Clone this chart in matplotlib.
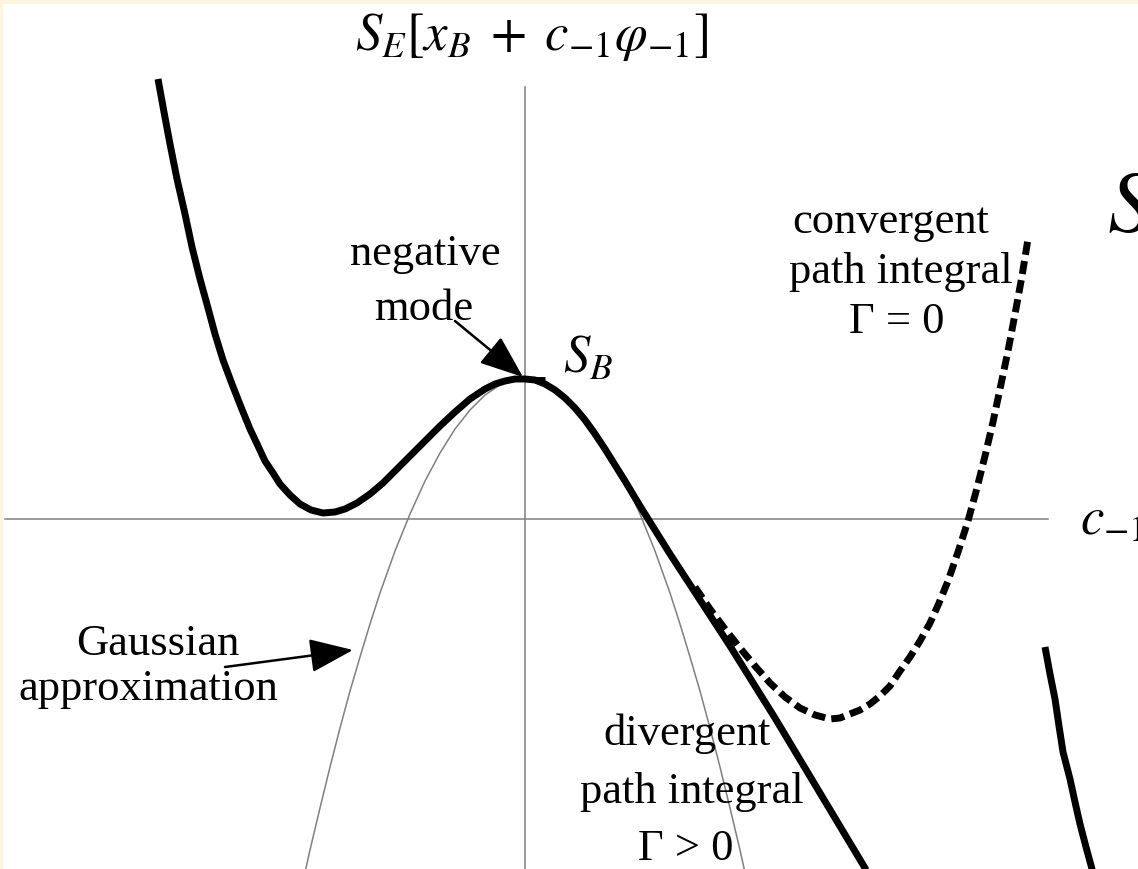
import numpy as np
import matplotlib.pyplot as plt

plt.rcParams['mathtext.fontset'] = 'stix'
plt.rcParams['font.family'] = ['Liberation Serif', 'DejaVu Serif']

# Euclidean action along the negative mode direction (c_-1, S_E)
c_main = [-3.67, -3.61, -3.55, -3.48, -3.40, -3.33, -3.25, -3.17, -3.10, -3.02, -2.93,
          -2.84, -2.75, -2.67, -2.60, -2.52, -2.45, -2.35, -2.25, -2.14, -2.02,
          -1.90, -1.80, -1.68, -1.55, -1.42, -1.28, -1.14, -1.00, -0.85, -0.70,
          -0.55, -0.40, -0.30, -0.20, -0.10, 0.00, 0.10, 0.20, 0.30, 0.40,
          0.50, 0.60, 0.70, 0.80, 0.90, 1.00, 1.15, 1.30, 1.45, 1.60, 1.75,
          1.90, 2.05, 2.20, 2.35, 2.50, 2.65, 2.80, 2.95, 3.10, 3.25, 3.40, 3.55]
S_main = [4.40, 4.07, 3.75, 3.40, 3.05, 2.72, 2.40, 2.11, 1.85, 1.59, 1.35,
          1.12, 0.90, 0.73, 0.58, 0.46, 0.35, 0.24, 0.15, 0.09, 0.06,
          0.07, 0.10, 0.16, 0.25, 0.36, 0.50, 0.64, 0.78, 0.93, 1.07,
          1.20, 1.30, 1.35, 1.38, 1.40, 1.40, 1.39, 1.35, 1.29, 1.21,
          1.11, 0.99, 0.85, 0.70, 0.54, 0.38, 0.13, -0.11, -0.35, -0.58, -0.81,
          -1.04, -1.27, -1.51, -1.75, -1.99, -2.24, -2.49, -2.74, -2.99, -3.24, -3.49, -3.74]

# convergent continuation (dashed)
c_conv = [1.70, 1.85, 2.00, 2.15, 2.30, 2.45, 2.60, 2.75, 2.90, 3.05, 3.15, 3.25, 3.35,
          3.45, 3.55, 3.65, 3.75, 3.85, 3.95, 4.05, 4.14, 4.23, 4.33, 4.43, 4.52,
          4.60, 4.68, 4.75, 4.83, 4.90, 4.97, 5.03]
S_conv = [-0.68, -0.90, -1.10, -1.29, -1.47, -1.64, -1.78, -1.89, -1.96, -2.00, -1.99, -1.95, -1.91,
          -1.85, -1.77, -1.67, -1.52, -1.38, -1.22, -1.04, -0.84, -0.62, -0.33, -0.02, 0.31,
          0.63, 0.97, 1.30, 1.68, 2.05, 2.43, 2.80]

# piece of the neighbouring curve on the right edge
c_edge = [5.20, 5.25, 5.30, 5.34, 5.38, 5.45, 5.50, 5.55, 5.61, 5.67, 5.70]
S_edge = [-1.28, -1.55, -1.80, -2.07, -2.33, -2.60, -2.83, -3.05, -3.28, -3.50, -3.62]

# Gaussian approximation around the bounce
c_gauss = [-2.25, -2.15, -2.05, -1.95, -1.85, -1.75, -1.65, -1.55, -1.45, -1.30, -1.15,
           -1.00, -0.85, -0.70, -0.55, -0.40, -0.25, -0.12, 0.00,
           0.12, 0.25, 0.40, 0.55, 0.70, 0.85, 1.00, 1.15, 1.30, 1.45, 1.55, 1.65,
           1.75, 1.85, 1.95, 2.05, 2.15, 2.25]
S_gauss = [-3.76, -3.31, -2.89, -2.48, -2.09, -1.72, -1.38, -1.05, -0.74, -0.32, 0.05,
           0.38, 0.66, 0.90, 1.09, 1.24, 1.34, 1.39, 1.40,
           1.39, 1.34, 1.24, 1.09, 0.90, 0.66, 0.38, 0.05, -0.32, -0.74, -1.05, -1.38,
           -1.72, -2.09, -2.48, -2.89, -3.31, -3.76]

S_B = 1.40

fig = plt.figure(figsize=(11.38, 8.70), dpi=100, facecolor='#fdf5df')
ax = fig.add_axes([3 / 1138, 0, 1 - 3 / 1138, 1 - 5 / 870])
ax.set_facecolor('white')
for s in ax.spines.values():
    s.set_visible(False)
ax.set_xticks([])
ax.set_yticks([])
ax.set_xlim(-5.22, 6.13)
ax.set_ylim(-3.50, 5.15)

# coordinate axes
ax.plot([-5.20, 5.23], [0, 0], color='#808080', lw=1.1)
ax.plot([0, 0], [-3.6, 4.32], color='#808080', lw=1.1)

ax.plot(c_gauss, S_gauss, color='#808080', lw=1.1)
ax.plot(c_conv, S_conv, color='k', lw=5, ls=(0, (1.9, 0.9)))
ax.plot(c_main, S_main, color='k', lw=5, solid_capstyle='butt', solid_joinstyle='round')
ax.plot(c_edge, S_edge, color='k', lw=5, solid_capstyle='butt', solid_joinstyle='round')
ax.plot([-0.05, 0.20], [S_B, S_B], color='k', lw=3.5, solid_capstyle='butt')

fs = 32
ax.text(-1.70, 4.70, r'$S_E[x_B\;+\;c_{-1}\varphi_{-1}]$', fontsize=38, ha='left', va='baseline')
ax.text(0.38, 1.47, r'$S_B$', fontsize=38, ha='left', va='baseline')
ax.text(5.55, -0.15, r'$c_{-1}$', fontsize=38, ha='left', va='baseline')
ax.text(5.82, 2.88, r'$S$', fontsize=64, ha='left', va='baseline')

ax.text(-1.00, 2.55, 'negative', fontsize=fs, ha='center', va='baseline')
ax.text(-1.01, 2.00, 'mode', fontsize=fs, ha='center', va='baseline')
ax.text(3.66, 2.87, 'convergent', fontsize=fs, ha='center', va='baseline')
ax.text(3.76, 2.37, 'path integral', fontsize=fs, ha='center', va='baseline')
ax.text(3.72, 1.87, 'Γ = 0', fontsize=fs, ha='center', va='baseline')
ax.text(-3.67, -1.35, 'Gaussian', fontsize=fs, ha='center', va='baseline')
ax.text(-3.77, -1.80, 'approximation', fontsize=fs, ha='center', va='baseline')
ax.text(1.62, -2.25, 'divergent', fontsize=fs, ha='center', va='baseline')
ax.text(1.67, -2.83, 'path integral', fontsize=fs, ha='center', va='baseline')
ax.text(1.61, -3.40, 'Γ > 0', fontsize=fs, ha='center', va='baseline')

arrow = dict(arrowstyle='-|>,head_length=0.9,head_width=0.35', color='k', lw=1.8,
             shrinkA=0, shrinkB=0, mutation_scale=30)
ax.annotate('', xy=(-0.02, 1.42), xytext=(-0.70, 1.98), arrowprops=arrow)
ax.annotate('', xy=(-1.72, -1.31), xytext=(-3.00, -1.48), arrowprops=arrow)

fig.savefig('out.png', dpi=100, facecolor=fig.get_facecolor())
